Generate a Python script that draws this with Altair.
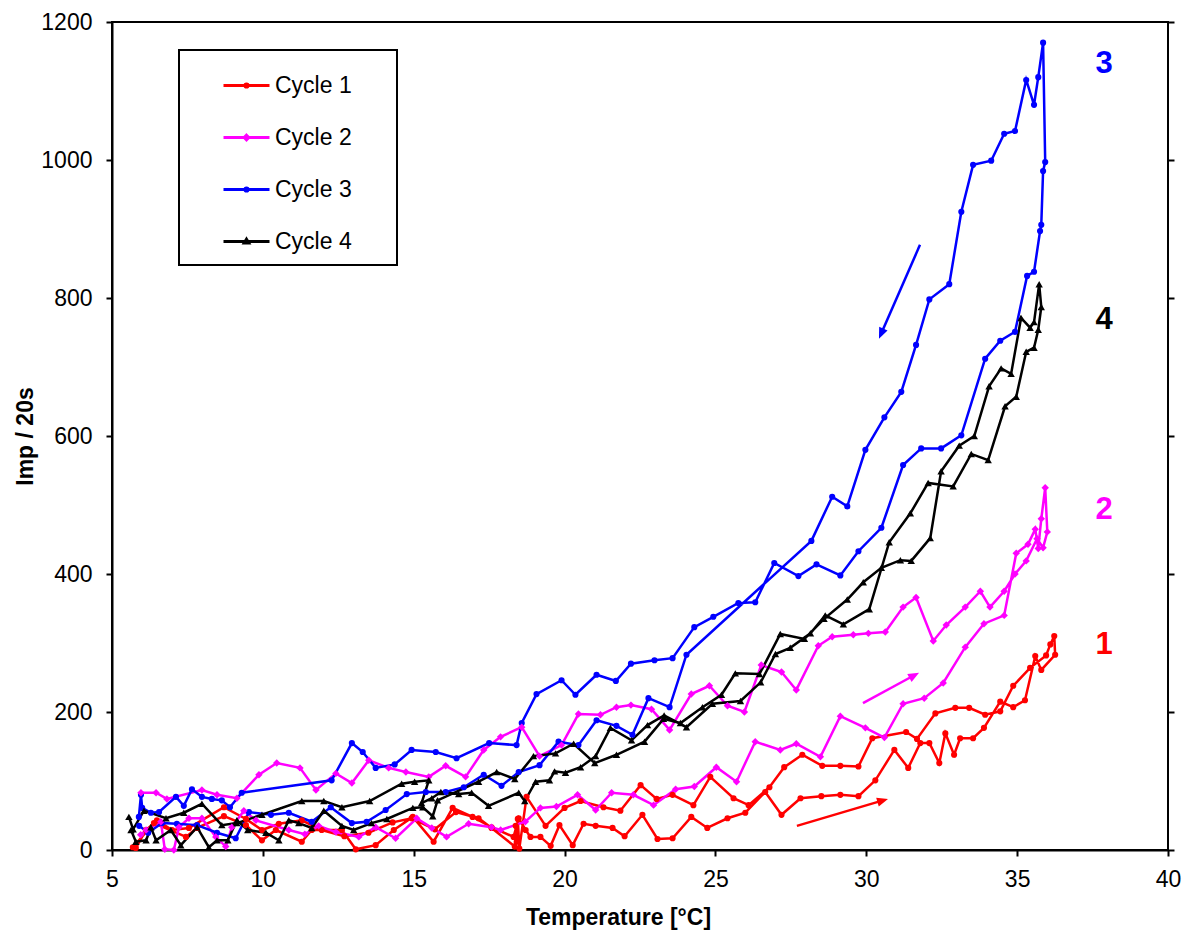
import math
import altair as alt
import pandas as pd

CYCLES = ["Cycle 1", "Cycle 2", "Cycle 3", "Cycle 4"]
COLORS = ["#ff0000", "#ff00ff", "#0000ff", "#000000"]

X_TICKS = [5, 10, 15, 20, 25, 30, 35, 40]
Y_TICKS = [0, 200, 400, 600, 800, 1000, 1200]

# ---- Cycle 1 (red) : heating branch then cooling branch ----
c1_heat_T = [5.69, 6.39, 7.45, 7.82, 8.71, 9.44, 9.97, 10.43, 11.29, 11.62,
             12.62, 13.08, 13.74, 14.34, 14.97, 15.66, 16.29, 16.95, 17.58, 18.31,
             18.48, 18.71, 18.87, 19.2, 19.54, 19.83, 20.27, 20.63, 21.03, 21.59,
             21.99, 22.58, 23.08, 23.58, 24.2, 24.73, 25.4, 25.99, 26.65, 27.19,
             27.82, 28.51, 29.14, 29.74, 30.3, 30.93, 31.39, 31.79, 32.09, 32.42,
             32.62, 32.91, 33.11, 33.54, 33.9, 34.44, 34.87, 35.26, 35.6, 35.8,
             36.26, 36.23]
c1_heat_V = [4, 39, 19, 32, 49, 36, 14, 29, 12, 29,
             29, 1, 7, 29, 48, 12, 61, 48, 33, 19,
             46, 29, 19, 19, 6, 36, 7, 38, 35, 32,
             20, 51, 16, 17, 48, 32, 46, 54, 84, 51,
             75, 78, 80, 78, 101, 145, 119, 155, 155, 126,
             169, 138, 162, 162, 177, 215, 207, 217, 281, 261,
             283, 310]
c1_cool_T = [36.1, 35.96, 35.43, 34.87, 34.44, 33.94, 33.41, 32.95, 32.29, 31.68,
             31.32, 30.2, 29.74, 29.14, 28.54, 27.88, 27.28, 26.79, 26.1, 25.6,
             24.83, 24.27, 23.58, 23.05, 22.52, 21.85, 21.29, 20.53, 20.0, 19.37,
             18.74, 18.5, 18.45, 18.42, 18.38, 18.35, 17.58, 17.15, 16.4, 15.7,
             14.93, 14.3, 13.5, 12.7, 11.95, 11.29, 10.53, 9.97, 9.44, 8.71,
             7.55, 6.99, 6.49, 6.13, 5.79]
c1_cool_V = [298, 282, 264, 238, 201, 196, 206, 206, 198, 161,
             171, 162, 121, 122, 122, 138, 120, 91, 65, 75,
             106, 65, 80, 74, 94, 57, 62, 71, 61, 35,
             77, 2, 45, 12, 35, 5, 32, 46, 55, 30,
             46, 40, 25, 20, 29, 43, 38, 29, 45, 62,
             32, 29, 43, 29, 3]

# ---- Cycle 2 (magenta) ----
c2_heat_T = [5.95, 6.13, 6.62, 6.75, 7.05, 7.22, 7.55, 7.98, 8.44, 8.77,
             8.97, 9.37, 9.77, 10.86, 11.39, 11.85, 12.42, 13.18, 13.74, 14.4,
             15.1, 15.6, 16.09, 16.82, 17.58, 17.88, 18.7, 19.2, 19.73, 20.43,
             21.03, 21.56, 22.28, 22.95, 23.68, 24.3, 25.03, 25.7, 26.32, 27.15,
             27.68, 28.48, 29.14, 29.97, 30.6, 31.22, 31.92, 32.55, 33.28, 33.9,
             34.57, 34.97, 35.36, 35.6, 35.7, 35.8, 35.93]
c2_heat_V = [22, 29, 41, 1, 0, 33, 46, 46, 19, 5,
             33, 57, 43, 29, 23, 35, 26, 19, 33, 17,
             46, 32, 19, 38, 33, 29, 41, 61, 63, 80,
             58, 83, 80, 65, 88, 92, 120, 99, 157, 145,
             154, 135, 194, 177, 163, 212, 220, 242, 294, 328,
             340, 430, 443, 465, 437, 480, 525]
c2_cool_T = [36.0, 35.86, 35.66, 35.3, 34.93, 34.57, 34.1, 33.78, 33.28, 32.65,
             32.22, 31.65, 31.22, 30.63, 30.07, 29.57, 28.87, 28.41, 27.68, 27.19,
             26.52, 25.96, 25.4, 24.8, 24.2, 23.48, 22.88, 22.2, 21.72, 21.19,
             20.46, 19.9, 19.17, 18.58, 17.88, 17.32, 16.72, 16.06, 15.5, 14.74,
             14.17, 13.51, 12.95, 12.42, 11.76, 11.23, 10.46, 9.87, 9.14, 8.48,
             7.98, 6.82, 6.46, 5.96]
c2_cool_V = [461, 438, 451, 419, 400, 375, 352, 375, 352, 326,
             303, 366, 352, 316, 314, 312, 309, 296, 232, 258,
             268, 200, 209, 238, 226, 174, 204, 210, 207, 196,
             197, 152, 136, 178, 164, 145, 106, 122, 106, 113,
             119, 130, 97, 111, 87, 119, 126, 109, 75, 80,
             87, 74, 83, 83]

# ---- Cycle 3 (blue) ----
c3_heat_T = [5.89, 5.96, 6.0, 6.29, 6.56, 7.12, 7.38, 7.65, 7.98, 8.31,
             8.64, 8.91, 9.3, 12.28, 12.95, 13.31, 13.74, 14.37, 14.93, 15.73,
             16.42, 17.5, 18.41, 18.58, 19.07, 19.9, 20.36, 21.06, 21.7, 22.2,
             22.98, 23.58, 24.3, 24.93, 25.76, 26.32, 26.95, 27.75, 28.35, 29.14,
             29.74, 30.5, 31.22, 31.82, 32.48, 33.15, 33.94, 34.44, 34.93, 35.33,
             35.56, 35.76, 35.8, 35.86, 35.93, 35.86]
c3_heat_V = [48, 80, 61, 54, 55, 77, 64, 88, 77, 74,
             72, 62, 83, 101, 155, 142, 119, 124, 145, 142,
             133, 155, 152, 184, 226, 246, 225, 254, 245, 270,
             275, 278, 323, 338, 358, 359, 416, 397, 414, 398,
             433, 467, 558, 582, 582, 601, 712, 738, 751, 832,
             838, 897, 906, 984, 997, 1170]
c3_cool_T = [35.7, 35.56, 35.3, 34.93, 34.57, 34.14, 33.54, 33.15, 32.75, 32.09,
             31.65, 31.16, 30.6, 29.97, 29.37, 28.87, 28.18, 24.04, 23.48, 22.78,
             22.25, 21.72, 21.06, 20.46, 19.8, 19.17, 18.48, 17.91, 17.32, 16.66,
             16.06, 15.4, 14.77, 14.07, 13.44, 12.95, 12.25, 11.62, 10.86, 10.27,
             9.54, 9.1, 8.48, 7.82, 7.15, 6.66, 6.2, 5.9]
c3_cool_V = [1120, 1080, 1116, 1042, 1038, 999, 993, 925, 820, 798,
             732, 664, 627, 580, 498, 512, 448, 283, 207, 220,
             167, 180, 188, 152, 157, 123, 113, 93, 109, 91,
             84, 84, 81, 58, 41, 39, 62, 41, 54, 51,
             55, 17, 25, 36, 38, 39, 25, 35]

# ---- Cycle 4 (black) ----
c4_heat_T = [5.56, 5.7, 6.06, 6.79, 7.38, 7.98, 8.64, 9.14, 9.97, 11.29,
             12.02, 12.62, 13.54, 14.6, 15.03, 15.5, 15.26, 15.6, 15.9, 16.49,
             16.92, 17.48, 18.48, 18.68, 19.04, 19.5, 19.67, 20.03, 20.53, 21.03,
             21.52, 22.22, 22.75, 23.3, 24.04, 24.9, 25.83, 26.5, 26.99, 27.48,
             28.15, 28.64, 29.24, 30.1, 30.76, 31.46, 32.05, 32.88, 33.48, 34.04,
             34.6, 34.97, 35.3, 35.56, 35.7, 35.8, 35.73]
c4_heat_V = [48, 30, 57, 46, 54, 67, 36, 39, 51, 71,
             71, 62, 71, 96, 99, 101, 68, 75, 84, 81,
             83, 64, 83, 71, 99, 101, 114, 112, 120, 136,
             177, 159, 181, 195, 178, 212, 216, 243, 284, 293,
             314, 340, 327, 349, 446, 488, 532, 527, 574, 565,
             643, 657, 722, 728, 754, 787, 820]
c4_cool_T = [35.56, 35.43, 35.13, 34.8, 34.47, 34.07, 33.58, 33.08, 32.48, 32.12,
             31.49, 31.13, 30.5, 29.9, 29.37, 28.6, 27.95, 27.15, 26.46, 25.66,
             25.2, 24.57, 23.84, 23.28, 22.65, 21.72, 21.0, 20.3, 19.7, 18.97,
             18.35, 17.75, 17.15, 15.79, 15.63, 15.3, 14.97, 14.11, 13.6, 13.01,
             12.62, 12.02, 11.62, 11.19, 10.86, 10.53, 10.1, 9.5, 9.14, 8.84,
             8.48, 8.21, 7.82, 7.28, 6.95, 6.46, 6.29, 6.13, 5.79, 5.63]
c4_cool_V = [765, 757, 771, 690, 698, 672, 600, 586, 549, 452,
             419, 420, 409, 388, 363, 335, 306, 313, 255, 256,
             225, 207, 184, 190, 157, 138, 126, 154, 140, 136,
             103, 113, 99, 72, 49, 62, 61, 45, 39, 29,
             35, 57, 32, 39, 43, 14, 25, 29, 43, 14,
             14, 4, 33, 7, 29, 14, 33, 14, 12, 29]

# ---- annotations ----
ann_text = ["1", "2", "3", "4"]
ann_cycle = ["Cycle 1", "Cycle 2", "Cycle 3", "Cycle 4"]
ann_T = [37.88, 37.88, 37.88, 37.88]
ann_V = [297, 493, 1139, 768]

arrow_cycle = ["Cycle 1", "Cycle 2", "Cycle 3"]
arrow_T0 = [27.7, 29.89, 31.78]
arrow_V0 = [35, 213, 877]
arrow_T1 = [30.72, 31.75, 30.42]
arrow_V1 = [74, 257, 741]

# ---------------------------------------------------------------
W, H = 1056, 828
XMIN, XMAX, YMIN, YMAX = 5, 40, 0, 1200

paths = {
    "Cycle 1": (c1_heat_T + c1_cool_T, c1_heat_V + c1_cool_V),
    "Cycle 2": (c2_heat_T + c2_cool_T, c2_heat_V + c2_cool_V),
    "Cycle 3": (c3_heat_T + c3_cool_T, c3_heat_V + c3_cool_V),
    "Cycle 4": (c4_heat_T + c4_cool_T, c4_heat_V + c4_cool_V),
}
rows = []
for name, (ts, vs) in paths.items():
    for i, (t, v) in enumerate(zip(ts, vs)):
        rows.append({"cycle": name, "idx": i, "T": t, "V": v})
df = pd.DataFrame(rows)

ann_df = pd.DataFrame({"cycle": ann_cycle, "txt": ann_text, "T": ann_T, "V": ann_V})

px_x = W / (XMAX - XMIN)
px_y = H / (YMAX - YMIN)
arows = []
for c, t0, v0, t1, v1 in zip(arrow_cycle, arrow_T0, arrow_V0, arrow_T1, arrow_V1):
    sx = (t1 - t0) * px_x
    sy = (v1 - v0) * px_y
    L = math.hypot(sx, sy)
    ang = math.degrees(math.atan2(sx, sy)) % 360
    f = max(0.0, 1 - 7.0 / L)
    arows.append({"cycle": c, "T0": t0, "V0": v0,
                  "Te": t0 + (t1 - t0) * f, "Ve": v0 + (v1 - v0) * f,
                  "T1": t1, "V1": v1, "ang": ang})
arrow_df = pd.DataFrame(arows)

FONT = "Liberation Sans"
xs = alt.Scale(domain=[XMIN, XMAX], nice=False, zero=False)
ys = alt.Scale(domain=[YMIN, YMAX], nice=False, zero=False)
# colour scale for the marks (an extra unused entry keeps it apart from the legend scales)
cs = alt.Scale(domain=CYCLES + ["_"], range=COLORS + ["#ffffff"])

x_axis = alt.Axis(values=X_TICKS, title="Temperature [°C]", labelFlush=False,
                  labelOverlap=False, tickSize=6, labelPadding=12, format="d",
                  titleFont=FONT, titleFontWeight="bold", titleFontSize=23,
                  titleX=506, titleY=74, titleAlign="center",
                  titleBaseline="alphabetic", grid=False)
y_axis = alt.Axis(values=Y_TICKS, title="Imp / 20s", labelFlush=False,
                  labelOverlap=False, tickSize=6, labelPadding=14, format="d",
                  titleFont="'Liberation Sans Narrow', 'Liberation Sans', sans-serif",
                  titleFontWeight="bold", titleFontSize=23, titleAngle=270,
                  titleX=-87, titleY=414, titleAlign="center",
                  titleBaseline="middle", grid=False)

lines = alt.Chart(df).mark_line(strokeWidth=2.5).encode(
    x=alt.X("T:Q", scale=xs, axis=x_axis),
    y=alt.Y("V:Q", scale=ys, axis=y_axis),
    color=alt.Color("cycle:N", scale=cs, legend=None),
    order=alt.Order("idx:Q"),
)


def pts(names, shape, size):
    return alt.Chart(df).transform_filter(
        alt.FieldOneOfPredicate(field="cycle", oneOf=names)
    ).mark_point(shape=shape, filled=True, size=size, opacity=1).encode(
        x=alt.X("T:Q", scale=xs),
        y=alt.Y("V:Q", scale=ys),
        color=alt.Color("cycle:N", scale=cs, legend=None),
    )


pts_c = pts(["Cycle 1", "Cycle 3"], "circle", 38)
pts_d = pts(["Cycle 2"], "diamond", 55)
pts_t = pts(["Cycle 4"], "triangle-up", 55)

# legend symbols: a line with a small marker in its middle
P_C = "M-1,0L1,0M-0.07,0A0.07,0.07,0,1,1,0.07,0A0.07,0.07,0,1,1,-0.07,0Z"
P_D = "M-1,0L1,0M0,-0.1L0.1,0L0,0.1L-0.1,0Z"
P_T = "M-1,0L1,0M0,-0.1L0.1,0.07L-0.1,0.07Z"
legend = alt.Legend(title="MM", titleOrient="right", titleOpacity=0, titleFontSize=20,
                    titlePadding=0,
                    orient="none", legendX=67, legendY=28,
                    symbolSize=2116, symbolOffset=32, labelOffset=4,
                    padding=11, rowPadding=15, symbolStrokeWidth=3,
                    labelFont=FONT, labelFontSize=23, labelColor="black",
                    strokeColor="black")
legend_layer = alt.Chart(df).transform_filter("false").mark_point(
    filled=False, strokeWidth=3, opacity=1
).encode(
    x=alt.X("T:Q", scale=xs),
    y=alt.Y("V:Q", scale=ys),
    stroke=alt.Stroke("cycle:N", scale=alt.Scale(domain=CYCLES, range=COLORS), legend=legend),
    shape=alt.Shape("cycle:N", scale=alt.Scale(domain=CYCLES, range=[P_C, P_D, P_C, P_T]),
                    legend=legend),
)

rules = alt.Chart(arrow_df).mark_rule(strokeWidth=2.5).encode(
    x=alt.X("T0:Q", scale=xs),
    y=alt.Y("V0:Q", scale=ys),
    x2="Te:Q", y2="Ve:Q",
    color=alt.Color("cycle:N", scale=cs, legend=None),
)
heads = alt.Chart(arrow_df).mark_point(
    shape="M0,0L-0.6,1.45L0.6,1.45Z", filled=True, size=230, opacity=1
).encode(
    x=alt.X("T1:Q", scale=xs),
    y=alt.Y("V1:Q", scale=ys),
    angle=alt.Angle("ang:Q", scale=None),
    color=alt.Color("cycle:N", scale=cs, legend=None),
)

main = alt.layer(lines, pts_c, pts_d, pts_t, rules, heads, legend_layer)

labels = alt.Chart(ann_df).mark_text(
    font=FONT, fontSize=31, fontWeight="bold", align="center", baseline="middle"
).encode(
    x=alt.X("T:Q", scale=xs),
    y=alt.Y("V:Q", scale=ys,
            axis=alt.Axis(orient="right", values=Y_TICKS, labels=False, domain=False,
                          ticks=True, tickSize=6, grid=False, title=None)),
    text="txt:N",
    color=alt.Color("cycle:N", scale=cs, legend=None),
)

chart = alt.layer(main, labels).resolve_axis(y="independent").properties(
    width=W, height=H,
    autosize=alt.AutoSizeParams(type="none"),
    padding={"left": 104, "top": 14, "right": 16, "bottom": 80},
).configure_view(
    stroke="black", strokeWidth=2
).configure_axis(
    domainColor="black", domainWidth=2, tickColor="black", tickWidth=2,
    labelFont=FONT, labelFontSize=23, labelColor="black", titleColor="black",
).configure_legend(
    strokeColor="black", strokeWidth=2
)

chart.save("out.html", embed_options={"renderer": "svg", "actions": False})
